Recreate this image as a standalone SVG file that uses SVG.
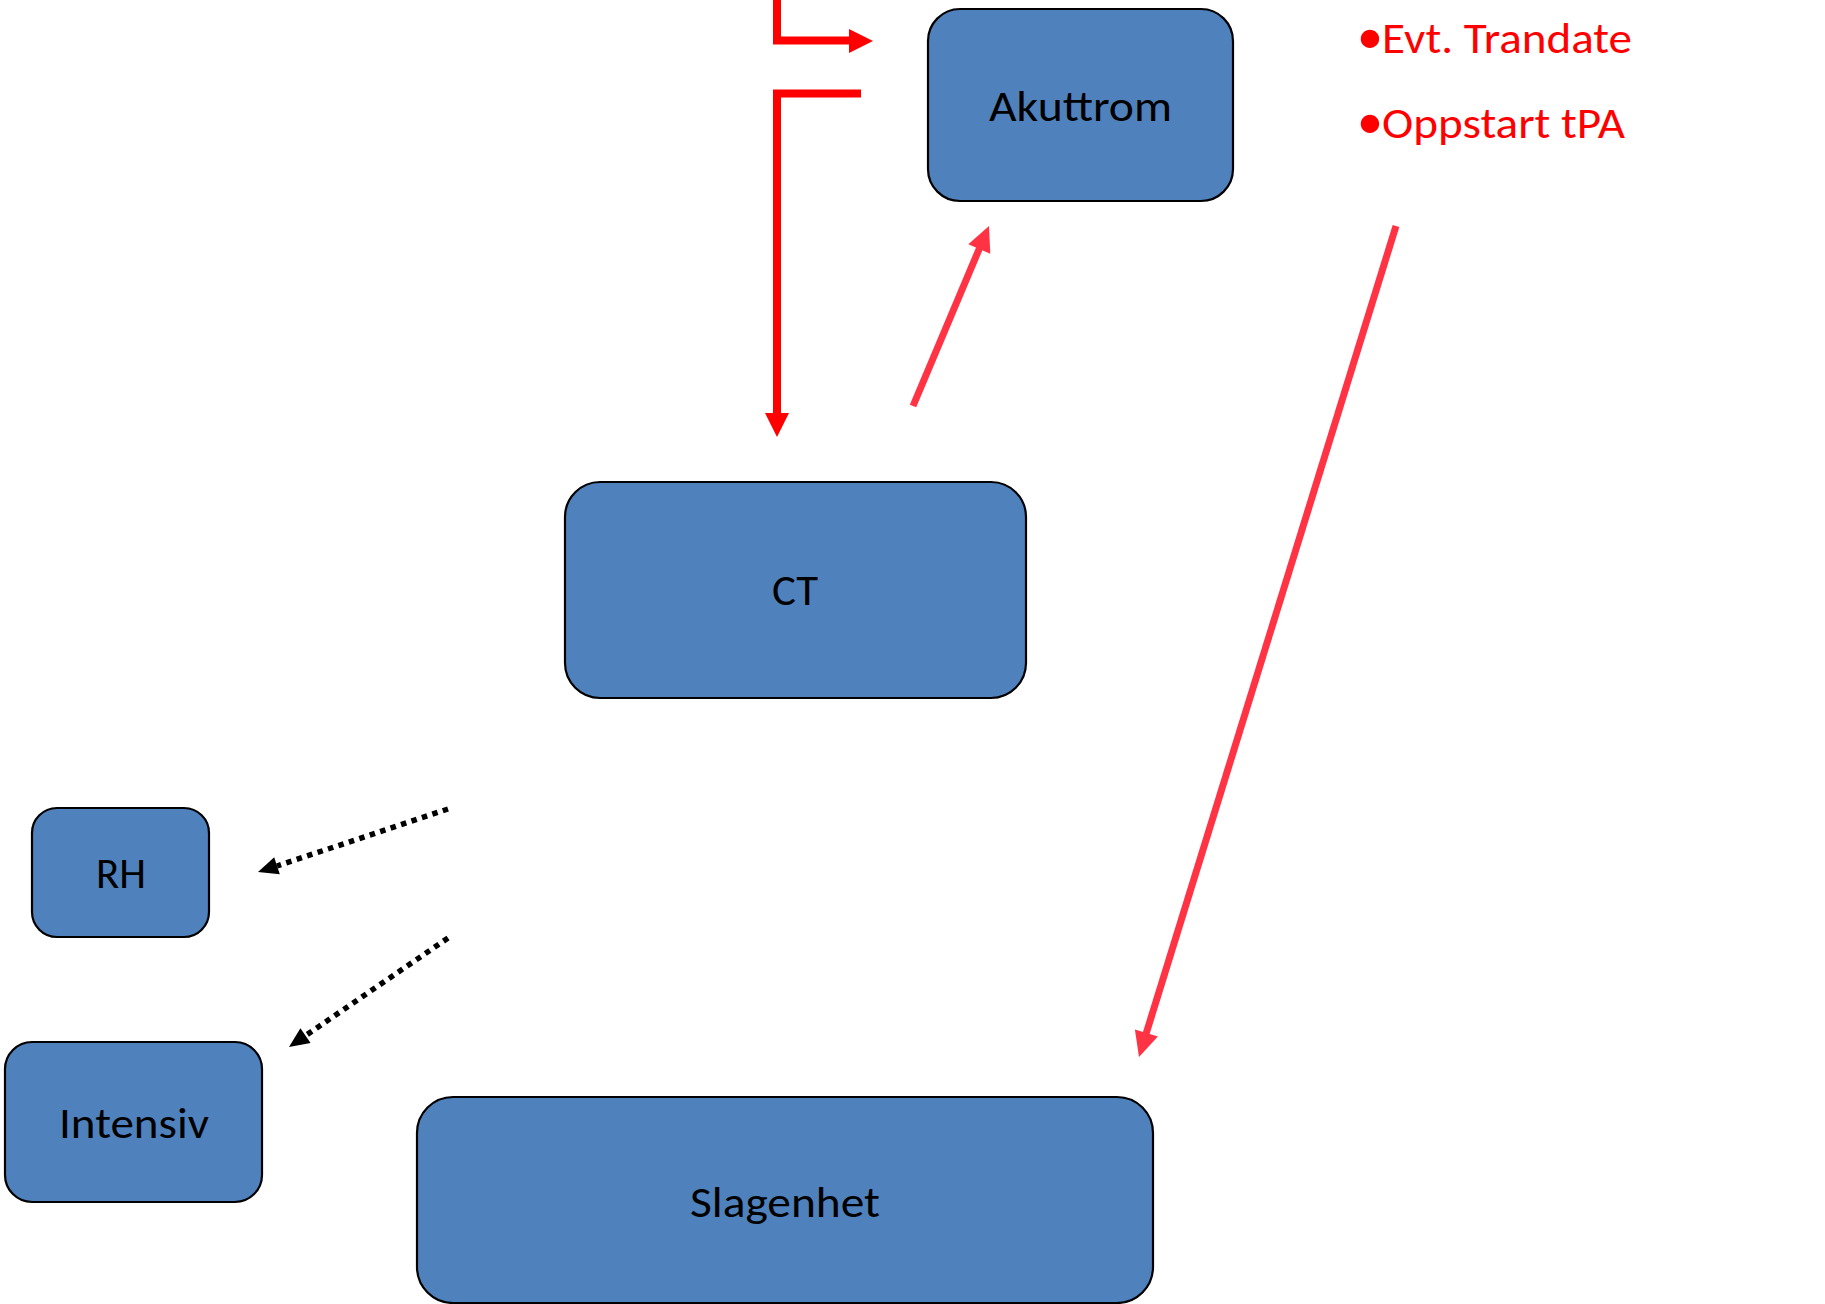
<svg xmlns="http://www.w3.org/2000/svg" width="1825" height="1304" viewBox="0 0 1825 1304">
  <style>
    .box { fill: #4F81BD; stroke: #000000; stroke-width: 2.2; }
    .label { font-family: Carlito, Lato, "Open Sans", sans-serif; font-size: 44px; fill: #000000; text-anchor: middle; }
    .note { font-family: Carlito, Lato, "Open Sans", sans-serif; font-size: 44px; fill: #FF0000; }
    .bullet { font-size: 52px; }
    .red { fill: none; stroke: #FF0000; stroke-width: 8; stroke-linejoin: miter; stroke-linecap: butt; }
    .red-head { fill: #FF0000; }
    .pink { fill: none; stroke: #FF3344; stroke-width: 7; stroke-linecap: butt; }
    .pink-head { fill: #FF3344; }
    .dots { fill: none; stroke: #000000; stroke-width: 5.5; stroke-dasharray: 5.5 5.5; }
    .dot-head { fill: #000000; }
  </style>

  <rect width="1825" height="1304" fill="#FFFFFF"/>

  <!-- connectors -->
  <g id="connectors">
    <!-- elbow coming in from the top, pointing right towards Akuttrom -->
    <polyline class="red" points="777,0 777,40.5 851,40.5"/>
    <polygon class="red-head" points="849,29 873,41 849,53"/>

    <!-- elbow from Akuttrom down to CT -->
    <polyline class="red" points="861,93.5 777,93.5 777,415"/>
    <polygon class="red-head" points="765,413 789,413 777,437"/>

    <!-- CT up to Akuttrom -->
    <line class="pink" x1="913" y1="406" x2="980" y2="247"/>
    <polygon class="pink-head" points="989,226 990.3,253.7 968.3,244.3"/>

    <!-- long diagonal down to Slagenhet -->
    <line class="pink" x1="1396" y1="226" x2="1146" y2="1034"/>
    <polygon class="pink-head" points="1139,1057 1134.9,1029.6 1157.9,1036.6"/>

    <!-- dotted arrows to RH and Intensiv -->
    <line class="dots" x1="448" y1="809" x2="277" y2="866"/>
    <polygon class="dot-head" points="258,872 274.2,857.2 279.8,874.2"/>

    <line class="dots" x1="448" y1="938" x2="305" y2="1036"/>
    <polygon class="dot-head" points="289,1047 300.4,1028.3 310.6,1043.1"/>
  </g>

  <g id="node-akuttrom">
    <rect class="box" x="928" y="9" width="305" height="192" rx="32" ry="32"/>
    <text class="label" x="1080.5" y="121" textLength="183" lengthAdjust="spacingAndGlyphs">Akuttrom</text>
  </g>

  <g id="node-ct">
    <rect class="box" x="565" y="482" width="461" height="216" rx="35" ry="35"/>
    <text class="label" x="795" y="605" textLength="46" lengthAdjust="spacingAndGlyphs">CT</text>
  </g>

  <g id="node-rh">
    <rect class="box" x="32" y="808" width="177" height="129" rx="25" ry="25"/>
    <text class="label" x="121" y="888" textLength="50" lengthAdjust="spacingAndGlyphs">RH</text>
  </g>

  <g id="node-intensiv">
    <rect class="box" x="5" y="1042" width="257" height="160" rx="27" ry="27"/>
    <text class="label" x="134" y="1138" textLength="150" lengthAdjust="spacingAndGlyphs">Intensiv</text>
  </g>

  <g id="node-slagenhet">
    <rect class="box" x="417" y="1097" width="736" height="206" rx="36" ry="36"/>
    <text class="label" x="785" y="1217" textLength="190" lengthAdjust="spacingAndGlyphs">Slagenhet</text>
  </g>

  <g id="notes">
    <text class="note" y="53"><tspan class="bullet" x="1357">•</tspan><tspan x="1382" textLength="250" lengthAdjust="spacingAndGlyphs">Evt. Trandate</tspan></text>
    <text class="note" y="138"><tspan class="bullet" x="1357">•</tspan><tspan x="1382" textLength="243" lengthAdjust="spacingAndGlyphs">Oppstart tPA</tspan></text>
  </g>
</svg>
